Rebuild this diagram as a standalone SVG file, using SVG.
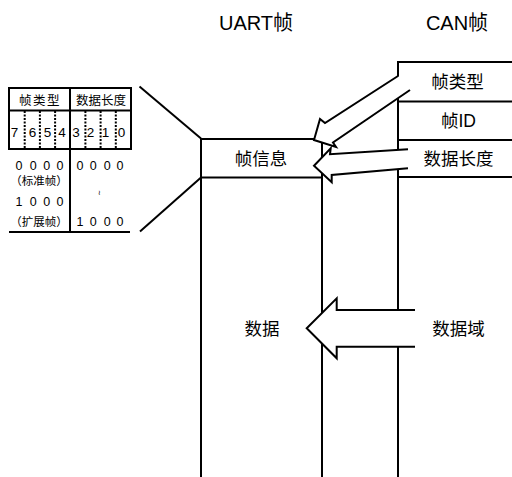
<svg xmlns="http://www.w3.org/2000/svg" width="512" height="477" viewBox="0 0 512 477">
<style>
.ln{stroke:#000;stroke-width:2;fill:none}
.dash{stroke:#000;stroke-width:2;fill:none;stroke-dasharray:2 1.5}
.ar{fill:#fff;stroke:none}
.t{font-family:"Liberation Sans","Noto Sans CJK SC",sans-serif;fill:#000;text-anchor:middle}
.big{font-size:20px}
.mid{font-size:17.5px}
.sm{font-size:12.5px}
.dg{font-size:13.5px}
.br{font-size:11.5px}
</style>
<rect width="512" height="477" fill="#fff"/>
<g id="titles">
<text class="t big" x="256" y="30">UART帧</text>
<text class="t big" x="457" y="30">CAN帧</text>
</g>
<g id="bit-table">
<rect class="ln" x="9" y="88" width="122" height="61"/>
<line class="ln" x1="9" y1="110.5" x2="131" y2="110.5"/>
<line class="ln" x1="70" y1="88" x2="70" y2="232"/>
<line class="ln" x1="9" y1="232" x2="130" y2="232"/>
<line class="dash" x1="24.7" y1="111" x2="24.7" y2="148"/>
<line class="dash" x1="39.9" y1="111" x2="39.9" y2="148"/>
<line class="dash" x1="55.1" y1="111" x2="55.1" y2="148"/>
<line class="dash" x1="85.4" y1="111" x2="85.4" y2="148"/>
<line class="dash" x1="100.6" y1="111" x2="100.6" y2="148"/>
<line class="dash" x1="115.8" y1="111" x2="115.8" y2="148"/>
<text class="t sm" x="40" y="105" letter-spacing="1.5">帧类型</text>
<text class="t sm" x="101" y="105">数据长度</text>
<g class="t dg">
<text x="14.5" y="136.5">7</text><text x="32.5" y="136.5">6</text><text x="47.5" y="136.5">5</text><text x="62" y="136.5">4</text>
<text x="76" y="136.5">3</text><text x="90.5" y="136.5">2</text><text x="105.5" y="136.5">1</text><text x="121.5" y="136.5">0</text>
</g>
<g class="t sm">
<text x="19" y="170">0</text><text x="33.3" y="170">0</text><text x="46.7" y="170">0</text><text x="60" y="170">0</text>
<text x="80" y="170">0</text><text x="93.3" y="170">0</text><text x="107.3" y="170">0</text><text x="120" y="170">0</text>
<text x="19" y="206">1</text><text x="33.3" y="206">0</text><text x="46.7" y="206">0</text><text x="60" y="206">0</text>
<text x="80" y="226">1</text><text x="93.3" y="226">0</text><text x="107.3" y="226">0</text><text x="120" y="226">0</text>
</g>
<text class="t br" x="39" y="184.5">（标准帧）</text>
<text class="t br" x="39" y="226">（扩展帧）</text>
<text class="t" font-size="7" x="99.3" y="195">≀</text>
</g>
<g id="connectors">
<line class="ln" x1="139.5" y1="86.5" x2="201" y2="138.5"/>
<line class="ln" x1="140" y1="231.5" x2="201" y2="177.5"/>
</g>
<g id="uart-frame">
<line class="ln" x1="201" y1="138" x2="201" y2="477"/>
<line class="ln" x1="322" y1="139" x2="322" y2="477"/>
<line class="ln" x1="200" y1="139" x2="322" y2="139"/>
<line class="ln" x1="200" y1="177.5" x2="322" y2="177.5"/>
<text class="t mid" x="261" y="164.5">帧信息</text>
<text class="t mid" x="262" y="334.5">数据</text>
</g>
<g id="can-frame">
<line class="ln" x1="398" y1="61" x2="398" y2="477"/>
<line class="ln" x1="397" y1="62" x2="512" y2="62"/>
<line class="ln" x1="398" y1="101.5" x2="512" y2="101.5"/>
<line class="ln" x1="398" y1="140" x2="512" y2="140"/>
<line class="ln" x1="398" y1="177" x2="512" y2="177"/>
<text class="t mid" x="457.5" y="88">帧类型</text>
<text class="t mid" x="458.5" y="126.5">帧ID</text>
<text class="t mid" x="458.5" y="164.5">数据长度</text>
<text class="t mid" x="458.5" y="334.5">数据域</text>
</g>
<g id="arrows">
<polygon class="ar" points="398,76 325,123 320,119 314,140 336,147 333,142.5 410,90"/>
<polyline class="ln" points="398,76 325,123 320,119 314,140 336,147 333,142.5 410,90"/>
<polygon class="ar" points="408,149.3 330,154.3 330.7,148.3 314,165.7 331.7,182.3 331.7,175 408,168.3"/>
<polyline class="ln" points="408,149.3 330,154.3 330.7,148.3 314,165.7 331.7,182.3 331.7,175 408,168.3"/>
<polygon class="ar" points="415,310 336.7,310 336.7,298.3 306.7,328.3 336.7,358.3 336.7,346.7 415,346.7"/>
<polyline class="ln" points="415,310 336.7,310 336.7,298.3 306.7,328.3 336.7,358.3 336.7,346.7 415,346.7"/>
</g>
</svg>
